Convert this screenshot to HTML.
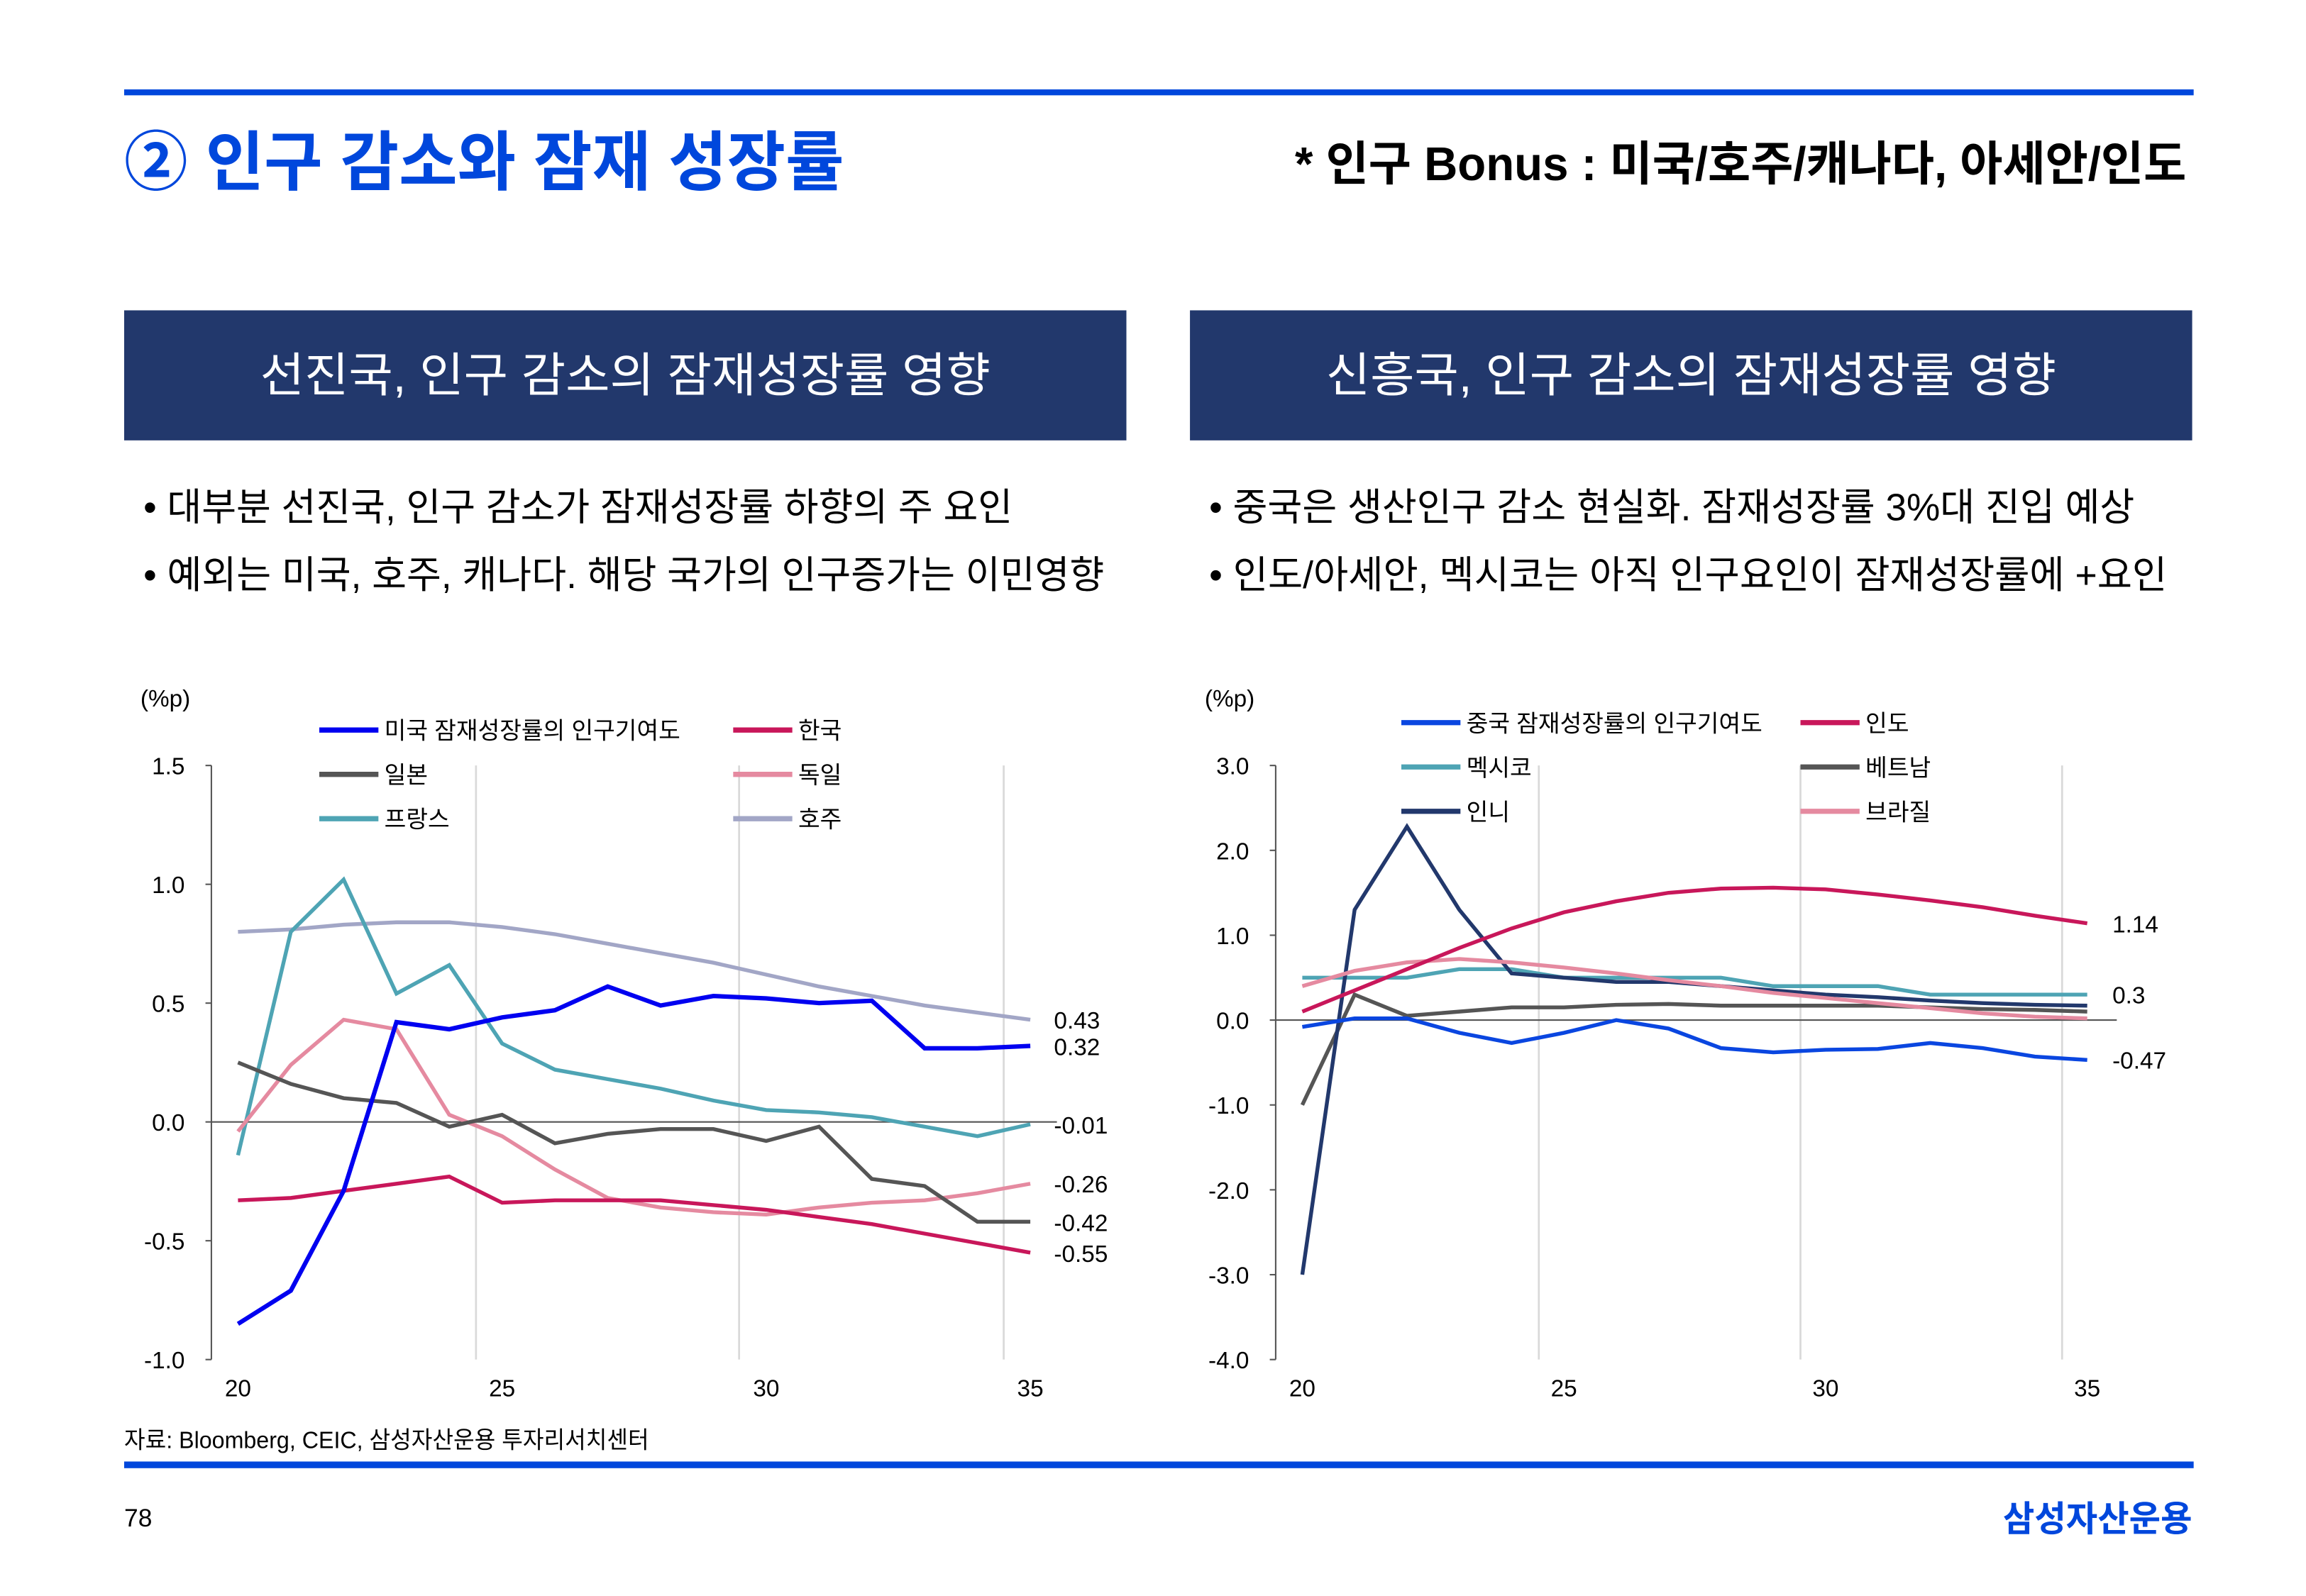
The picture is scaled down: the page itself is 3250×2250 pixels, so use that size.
<!DOCTYPE html>
<html><head><meta charset="utf-8"><style>
html,body{margin:0;padding:0;background:#fff;width:3250px;height:2250px;overflow:hidden}
svg{display:block}
text{font-family:"Liberation Sans","Noto Sans CJK KR",sans-serif}
</style></head><body>
<svg id="s" width="3250" height="2250" viewBox="0 0 1560 1080" preserveAspectRatio="none" xmlns="http://www.w3.org/2000/svg">
<rect x="0" y="0" width="1560" height="1080" fill="#fff"/>
<rect x="84" y="60.5" width="1400" height="4" fill="#0047dc"/>
<text x="84" y="125" font-size="44" font-weight="bold" fill="#0047dc" textLength="487" lengthAdjust="spacingAndGlyphs">② 인구 감소와 잠재 성장률</text>
<text x="876" y="122" font-size="32" font-weight="bold" fill="#000" textLength="603" lengthAdjust="spacingAndGlyphs">* 인구 Bonus : 미국/호주/캐나다, 아세안/인도</text>
<rect x="84" y="210" width="678" height="88" fill="#22386c"/>
<rect x="805" y="210" width="678" height="88" fill="#22386c"/>
<text x="423" y="265" font-size="32" fill="#fff" text-anchor="middle" textLength="494" lengthAdjust="spacingAndGlyphs">선진국, 인구 감소의 잠재성장률 영향</text>
<text x="1144" y="265" font-size="32" fill="#fff" text-anchor="middle" textLength="494" lengthAdjust="spacingAndGlyphs">신흥국, 인구 감소의 잠재성장률 영향</text>
<g font-size="26" fill="#000">
<text x="97" y="352" textLength="588" lengthAdjust="spacingAndGlyphs">• 대부분 선진국, 인구 감소가 잠재성장률 하향의 주 요인</text>
<text x="97" y="398" textLength="650" lengthAdjust="spacingAndGlyphs">• 예외는 미국, 호주, 캐나다. 해당 국가의 인구증가는 이민영향</text>
<text x="818" y="352" textLength="626" lengthAdjust="spacingAndGlyphs">• 중국은 생산인구 감소 현실화. 잠재성장률 3%대 진입 예상</text>
<text x="818" y="398" textLength="648" lengthAdjust="spacingAndGlyphs">• 인도/아세안, 멕시코는 아직 인구요인이 잠재성장률에 +요인</text>
</g>
<g id="charts"></g>
<text x="84" y="980" font-size="16" fill="#000" textLength="355" lengthAdjust="spacingAndGlyphs">자료: Bloomberg, CEIC, 삼성자산운용 투자리서치센터</text>
<rect x="84" y="989" width="1400" height="4.5" fill="#0047dc"/>
<text x="84" y="1033" font-size="17" fill="#000">78</text>
<text x="1483" y="1036" font-size="24" font-weight="bold" fill="#0047dc" text-anchor="end" textLength="128" lengthAdjust="spacingAndGlyphs">삼성자산운용</text>
</svg>
<script>
const NS="http://www.w3.org/2000/svg",g=document.getElementById('charts');
function el(t,a,txt){const e=document.createElementNS(NS,t);for(const k in a)e.setAttribute(k,a[k]);if(txt!=null)e.textContent=txt;g.appendChild(e);return e;}
function chart(o){
 const X=i=>o.x0+(o.x1-o.x0)*i/15, Y=v=>o.yTop+(o.vmax-v)*(o.yBot-o.yTop)/(o.vmax-o.vmin);
 o.grid.forEach(x=>el('line',{x1:x,x2:x,y1:o.yTop,y2:o.yBot,stroke:'#d9d9d9','stroke-width':1.3}));
 el('line',{x1:o.ax,x2:o.ax,y1:o.yTop,y2:o.yBot,stroke:'#555','stroke-width':1});
 o.yt.forEach(v=>{el('line',{x1:o.ax-4,x2:o.ax,y1:Y(v),y2:Y(v),stroke:'#555'});
  el('text',{x:o.ax-18,y:Y(v)+6,'font-size':16,'text-anchor':'end',fill:'#000'},v.toFixed(1));});
 el('line',{x1:o.ax,x2:o.zx,y1:Y(0),y2:Y(0),stroke:'#555','stroke-width':1});
 [0,5,10,15].forEach(i=>el('text',{x:X(i),y:o.yBot+25,'font-size':16,'text-anchor':'middle',fill:'#000'},20+i));
 el('text',{x:o.ax-48,y:478,'font-size':16,fill:'#000'},'(%p)');
 o.s.forEach(s=>{el('polyline',{points:s.d.map((v,i)=>X(i)+','+Y(v)).join(' '),fill:'none',stroke:s.c,'stroke-width':s.w||2.6,'stroke-linejoin':'miter'});});
 o.leg.forEach(l=>{el('line',{x1:l[0],x2:l[0]+40,y1:l[1],y2:l[1],stroke:l[3],'stroke-width':3.5});
  el('text',{x:l[0]+44,y:l[1]+6,'font-size':16,fill:'#000'},l[2]);});
 o.lab.forEach(l=>el('text',{x:l[0],y:l[1],'font-size':16,fill:'#000'},l[2]));
}
chart({x0:161,x1:697,yTop:518,yBot:920,vmax:1.5,vmin:-1.0,ax:143,zx:715,grid:[322,500,679],yt:[1.5,1.0,0.5,0.0,-0.5,-1.0],
 s:[
 {c:'#a2a6c6',d:[0.80,0.81,0.83,0.84,0.84,0.82,0.79,0.75,0.71,0.67,0.62,0.57,0.53,0.49,0.46,0.43]},
 {c:'#4ea4b4',d:[-0.14,0.80,1.02,0.54,0.66,0.33,0.22,0.18,0.14,0.09,0.05,0.04,0.02,-0.02,-0.06,-0.01]},
 {c:'#e58aa0',d:[-0.04,0.24,0.43,0.39,0.03,-0.06,-0.20,-0.32,-0.36,-0.38,-0.39,-0.36,-0.34,-0.33,-0.30,-0.26]},
 {c:'#555',d:[0.25,0.16,0.10,0.08,-0.02,0.03,-0.09,-0.05,-0.03,-0.03,-0.08,-0.02,-0.24,-0.27,-0.42,-0.42]},
 {c:'#c8175a',d:[-0.33,-0.32,-0.29,-0.26,-0.23,-0.34,-0.33,-0.33,-0.33,-0.35,-0.37,-0.40,-0.43,-0.47,-0.51,-0.55]},
 {c:'#0000f0',w:3,d:[-0.85,-0.71,-0.29,0.42,0.39,0.44,0.47,0.57,0.49,0.53,0.52,0.50,0.51,0.31,0.31,0.32]}],
 leg:[[216,494,'미국 잠재성장률의 인구기여도','#0000f0'],[496,494,'한국','#c8175a'],[216,524,'일본','#555'],[496,524,'독일','#e58aa0'],[216,554,'프랑스','#4ea4b4'],[496,554,'호주','#a2a6c6']],
 lab:[[713,696,'0.43'],[713,714,'0.32'],[713,767,'-0.01'],[713,807,'-0.26'],[713,833,'-0.42'],[713,854,'-0.55']]});
chart({x0:881,x1:1412,yTop:518,yBot:920,vmax:3,vmin:-4,ax:863,zx:1432,grid:[1041,1218,1395],yt:[3,2,1,0,-1,-2,-3,-4],
 s:[
 {c:'#555',d:[-1.0,0.3,0.05,0.1,0.15,0.15,0.18,0.19,0.17,0.17,0.17,0.17,0.15,0.13,0.12,0.1]},
 {c:'#4ea4b4',d:[0.5,0.5,0.5,0.6,0.6,0.5,0.5,0.5,0.5,0.4,0.4,0.4,0.3,0.3,0.3,0.3]},
 {c:'#22386c',d:[-3.0,1.3,2.28,1.3,0.55,0.5,0.45,0.45,0.4,0.35,0.3,0.27,0.23,0.2,0.18,0.17]},
 {c:'#e58aa0',d:[0.4,0.58,0.68,0.72,0.68,0.62,0.55,0.47,0.4,0.32,0.26,0.2,0.14,0.08,0.04,0.02]},
 {c:'#c8175a',d:[0.1,0.35,0.6,0.85,1.08,1.27,1.4,1.5,1.55,1.56,1.54,1.48,1.41,1.33,1.23,1.14]},
 {c:'#0a46e0',d:[-0.08,0.02,0.02,-0.15,-0.27,-0.15,0.0,-0.1,-0.33,-0.38,-0.35,-0.34,-0.27,-0.33,-0.43,-0.47]}],
 leg:[[948,489,'중국 잠재성장률의 인구기여도','#0a46e0'],[1218,489,'인도','#c8175a'],[948,519,'멕시코','#4ea4b4'],[1218,519,'베트남','#555'],[948,549,'인니','#22386c'],[1218,549,'브라질','#e58aa0']],
 lab:[[1429,631,'1.14'],[1429,679,'0.3'],[1429,723,'-0.47']]});
</script>
</body></html>
